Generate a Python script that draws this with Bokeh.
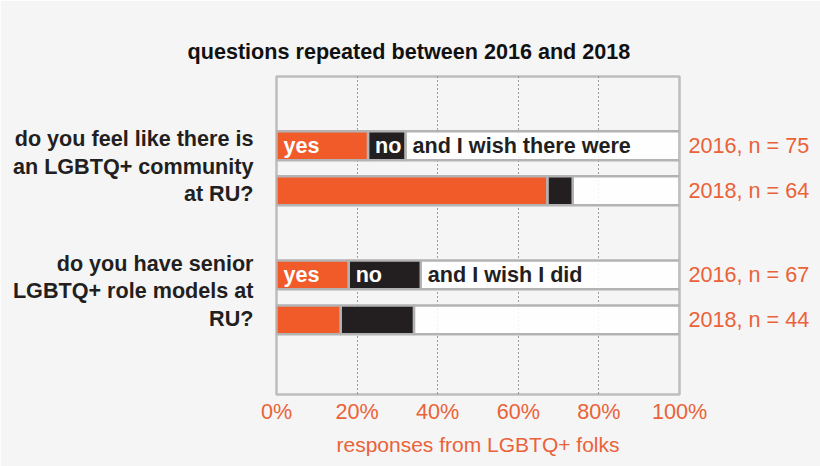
from bokeh.plotting import figure
from bokeh.models import Range1d, LabelSet, ColumnDataSource, FixedTicker, LinearAxis, Title
from bokeh.embed import file_html
from bokeh.resources import INLINE
from bokeh.core.properties import value

# ---------------- data ----------------
title_text = "questions repeated between 2016 and 2018"
questions = [
    "do you feel like there is\nan LGBTQ+ community\nat RU?",
    "do you have senior\nLGBTQ+ role models at\nRU?",
]
years = ["2016", "2018"]
n_values = [[75, 64], [67, 44]]
yes_pct = [[22.7, 67.2], [17.9, 15.9]]
no_pct = [[9.3, 6.3], [17.9, 18.2]]
wish_text = ["and I wish there were", "and I wish I did"]
x_ticks = [0, 20, 40, 60, 80, 100]
x_tick_labels = ["0%", "20%", "40%", "60%", "80%", "100%"]
x_label = "responses from LGBTQ+ folks"

# ---------------- style ----------------
ORANGE = "#F15A29"
ORANGE_TXT = "#EA6239"
DARK = "#231F20"
BG = "#F5F5F5"
EDGE = "#B3B3B3"
FONT = "Liberation Sans"
FS = "21.6px"

# layout of rows (row-step units, y grows downward)
TOP_PAD = 1.54
GROUP_STEP = 2.87
TOTAL = 7.07
BAR_H = 0.64
LABEL_SHIFT = [-0.05, -0.15]

rows = []
for qi, q in enumerate(questions):
    for yi, yr in enumerate(years):
        rows.append((qi, yi))

ys, zeros, rights_yes, rights_no = [], [], [], []
for qi, yi in rows:
    ys.append(TOP_PAD + qi * GROUP_STEP + yi)
    zeros.append(0)
    rights_yes.append(yes_pct[qi][yi])
    rights_no.append(yes_pct[qi][yi] + no_pct[qi][yi])
row_labels = [f"{years[yi]}, n = {n_values[qi][yi]}" for qi, yi in rows]

src = ColumnDataSource(dict(
    y=ys, yes_r=rights_yes, no_r=rights_no, zero=zeros, full=[100] * len(ys),
))

p = figure(
    width=820, height=466,
    frame_width=403, frame_height=318,
    min_border_left=276, min_border_right=141,
    min_border_top=76, min_border_bottom=72,
    x_range=Range1d(0, 100), y_range=Range1d(TOTAL, 0),
    output_backend="svg", toolbar_location=None,
    background_fill_color=BG, border_fill_color=BG,
)

p.outline_line_color = "#BDBDBD"
p.outline_line_width = 2.5

# remainder (white), no (dark), yes (orange)
p.hbar(y="y", left="no_r", right="full", height=BAR_H, source=src,
       fill_color="#FFFFFF", fill_alpha=0.88, line_color=EDGE, line_width=2.5)
p.hbar(y="y", left="yes_r", right="no_r", height=BAR_H, source=src,
       fill_color=DARK, line_color=EDGE, line_width=2.5)
p.hbar(y="y", left="zero", right="yes_r", height=BAR_H, source=src,
       fill_color=ORANGE, line_color=EDGE, line_width=2.5)

# in-bar labels on the first (2016) row of each question
in_x, in_y, in_t, in_c = [], [], [], []
for qi, q in enumerate(questions):
    y0 = TOP_PAD + qi * GROUP_STEP
    segs = [(0, "yes", "white"),
            (yes_pct[qi][0], "no", "white"),
            (yes_pct[qi][0] + no_pct[qi][0], wish_text[qi], DARK)]
    for sx, t, c in segs:
        in_x.append(sx); in_y.append(y0); in_t.append(t); in_c.append(c)
in_src = ColumnDataSource(dict(x=in_x, y=in_y, t=in_t, c=in_c))
p.add_layout(LabelSet(x="x", y="y", text="t", source=in_src, x_offset=7,
                      text_color="c", text_font=value(FONT), text_font_size=value(FS),
                      text_font_style=value("bold"), text_baseline=value("middle"),
                      text_align=value("left")))

# title
p.title = Title(text=title_text, align="left", offset=-89, standoff=25,
                text_font=FONT, text_font_size=FS, text_font_style="bold",
                text_color="#111111")

# left axis: question labels
p.yaxis.visible = False
q_ticks = [TOP_PAD + qi * GROUP_STEP + 0.5 + LABEL_SHIFT[qi] for qi in range(len(questions))]
la = LinearAxis(ticker=FixedTicker(ticks=q_ticks),
                major_label_overrides={t: q for t, q in zip(q_ticks, questions)},
                axis_line_color=None, major_tick_line_color=None, minor_tick_line_color=None,
                major_tick_out=0, major_tick_in=0, minor_tick_out=0,
                major_label_standoff=23,
                major_label_text_font=FONT, major_label_text_font_size=FS,
                major_label_text_font_style="bold", major_label_text_color=DARK,
                major_label_text_line_height=1.1)
p.add_layout(la, "left")

# right axis: year / n labels
ra = LinearAxis(ticker=FixedTicker(ticks=ys),
                major_label_overrides={t: l for t, l in zip(ys, row_labels)},
                axis_line_color=None, major_tick_line_color=None, minor_tick_line_color=None,
                major_tick_out=0, major_tick_in=0, minor_tick_out=0,
                major_label_standoff=9,
                major_label_text_font=FONT, major_label_text_font_size=FS,
                major_label_text_color=ORANGE_TXT)
p.add_layout(ra, "right")

# bottom axis
xa = p.xaxis[0]
xa.ticker = FixedTicker(ticks=x_ticks)
xa.major_label_overrides = {t: l for t, l in zip(x_ticks, x_tick_labels)}
xa.axis_line_color = None
xa.major_tick_line_color = None
xa.minor_tick_line_color = None
xa.major_tick_out = 0
xa.major_tick_in = 0
xa.minor_tick_out = 0
xa.major_label_text_color = ORANGE_TXT
xa.major_label_text_font = FONT
xa.major_label_text_font_size = FS
xa.major_label_standoff = 4
xa.axis_label = x_label
xa.axis_label_text_color = ORANGE_TXT
xa.axis_label_text_font = FONT
xa.axis_label_text_font_size = "21px"
xa.axis_label_text_font_style = "normal"
xa.axis_label_standoff = 6

p.ygrid.grid_line_color = None
p.xgrid.ticker = FixedTicker(ticks=x_ticks[1:-1])
p.xgrid.grid_line_color = "#444444"
p.xgrid.grid_line_dash = "1 3"
p.xgrid.grid_line_width = 1

html = file_html(p, INLINE)
html = html.replace("<body>", '<body style="background:%s">' % BG, 1)
open("out.html", "w").write(html)
